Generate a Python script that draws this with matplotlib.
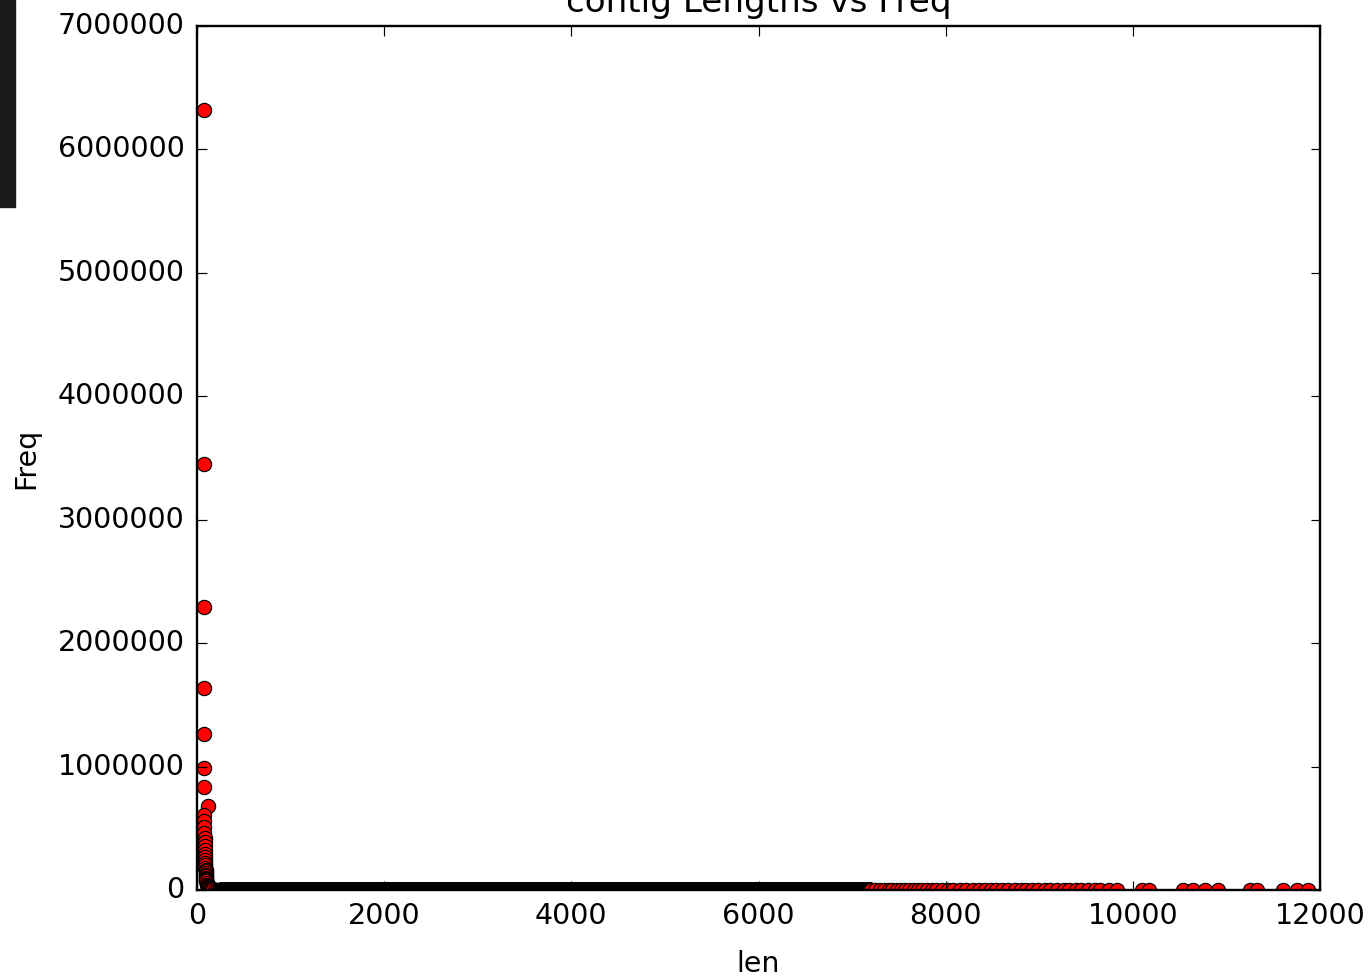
import numpy as np
import matplotlib
matplotlib.use("Agg")
import matplotlib.pyplot as plt
from matplotlib.patches import Rectangle

# contig length -> frequency
head_len = [70, 71, 72, 73, 74, 75, 76, 117,
            77, 78, 79, 80, 81, 82, 83, 84, 85, 86, 87, 88, 89, 90,
            91, 92, 93, 94, 95, 96, 97, 98]
head_freq = [6320000, 3450000, 2290000, 1640000, 1260000, 985000, 835000, 680000,
             610000, 560000, 510000, 465000, 425000, 390000, 355000, 325000,
             295000, 270000, 245000, 220000, 200000, 180000, 165000, 150000,
             135000, 120000, 110000, 100000, 90000, 80000]

low_len = [100, 105, 110, 115, 120, 125, 130, 140, 150, 160, 175, 190, 210, 230, 250]
low_freq = [70000, 55000, 42000, 33000, 26000, 21000, 17000, 12000, 9000, 7000,
            5000, 4000, 3000, 2500, 2000]

# every length between these is present with a tiny count (looks like 0)
dense_start, dense_end = 250, 7200
dense_count = 300

mid_len = [7200, 7250, 7300, 7340, 7390, 7430, 7480, 7520, 7570, 7610, 7660, 7700,
           7750, 7800, 7850, 7900, 7960, 8020, 8080, 8150, 8220, 8290, 8360, 8420,
           8480, 8540, 8600, 8670, 8740, 8800, 8860, 8920, 8990, 9060, 9120, 9190,
           9260, 9320, 9390, 9450, 9520, 9600, 9650, 9740, 9830]
far_len = [10100, 10170, 10540, 10640, 10770, 10910, 11250, 11330, 11600, 11750, 11870]

dense_len = np.arange(dense_start, dense_end)
lens = np.concatenate([head_len, low_len, dense_len, mid_len, far_len])
freqs = np.concatenate([head_freq, low_freq,
                        np.full(len(dense_len), dense_count),
                        np.full(len(mid_len), 100),
                        np.full(len(far_len), 10)])

s = 1.71  # scale vs the classic 12pt look
plt.style.use("classic")
plt.rcParams["font.family"] = ["DejaVu Sans"]
plt.rcParams["font.size"] = 12 * s
plt.rcParams["axes.linewidth"] = 1.0 * s
for a in ["xtick", "ytick"]:
    plt.rcParams[a + ".major.size"] = 4 * s
    plt.rcParams[a + ".major.width"] = 0.5 * s
    plt.rcParams[a + ".major.pad"] = 4 * s + 2

fig = plt.figure(figsize=(13.72, 9.77), dpi=100, facecolor="white")
ax = fig.add_axes([197 / 1372, 1 - 890 / 977, 1123 / 1372, 864 / 977])

ax.plot(lens, freqs, "o", color="red", markersize=6 * s,
        markeredgecolor="black", markeredgewidth=0.5 * s)

ax.set_xlim(0, 12000)
ax.set_ylim(0, 7000000)
ax.set_xticks(range(0, 12001, 2000))
ax.set_yticks(range(0, 7000001, 1000000))
ax.ticklabel_format(style="plain", useOffset=False)

ax.set_title("contig Lengths vs Freq", fontsize=14.4 * s, pad=10)
ax.set_xlabel("len", labelpad=14)
ax.set_ylabel("Freq")
ax.yaxis.set_label_coords(-0.14, 0.5)

# dark strip at the top left of the screenshot
fig.patches.append(Rectangle((0, 1 - 207 / 977), 15 / 1372, 207 / 977,
                             transform=fig.transFigure, color="#1a1a1a", zorder=5))

fig.savefig("out.png", dpi=100, facecolor="white")
